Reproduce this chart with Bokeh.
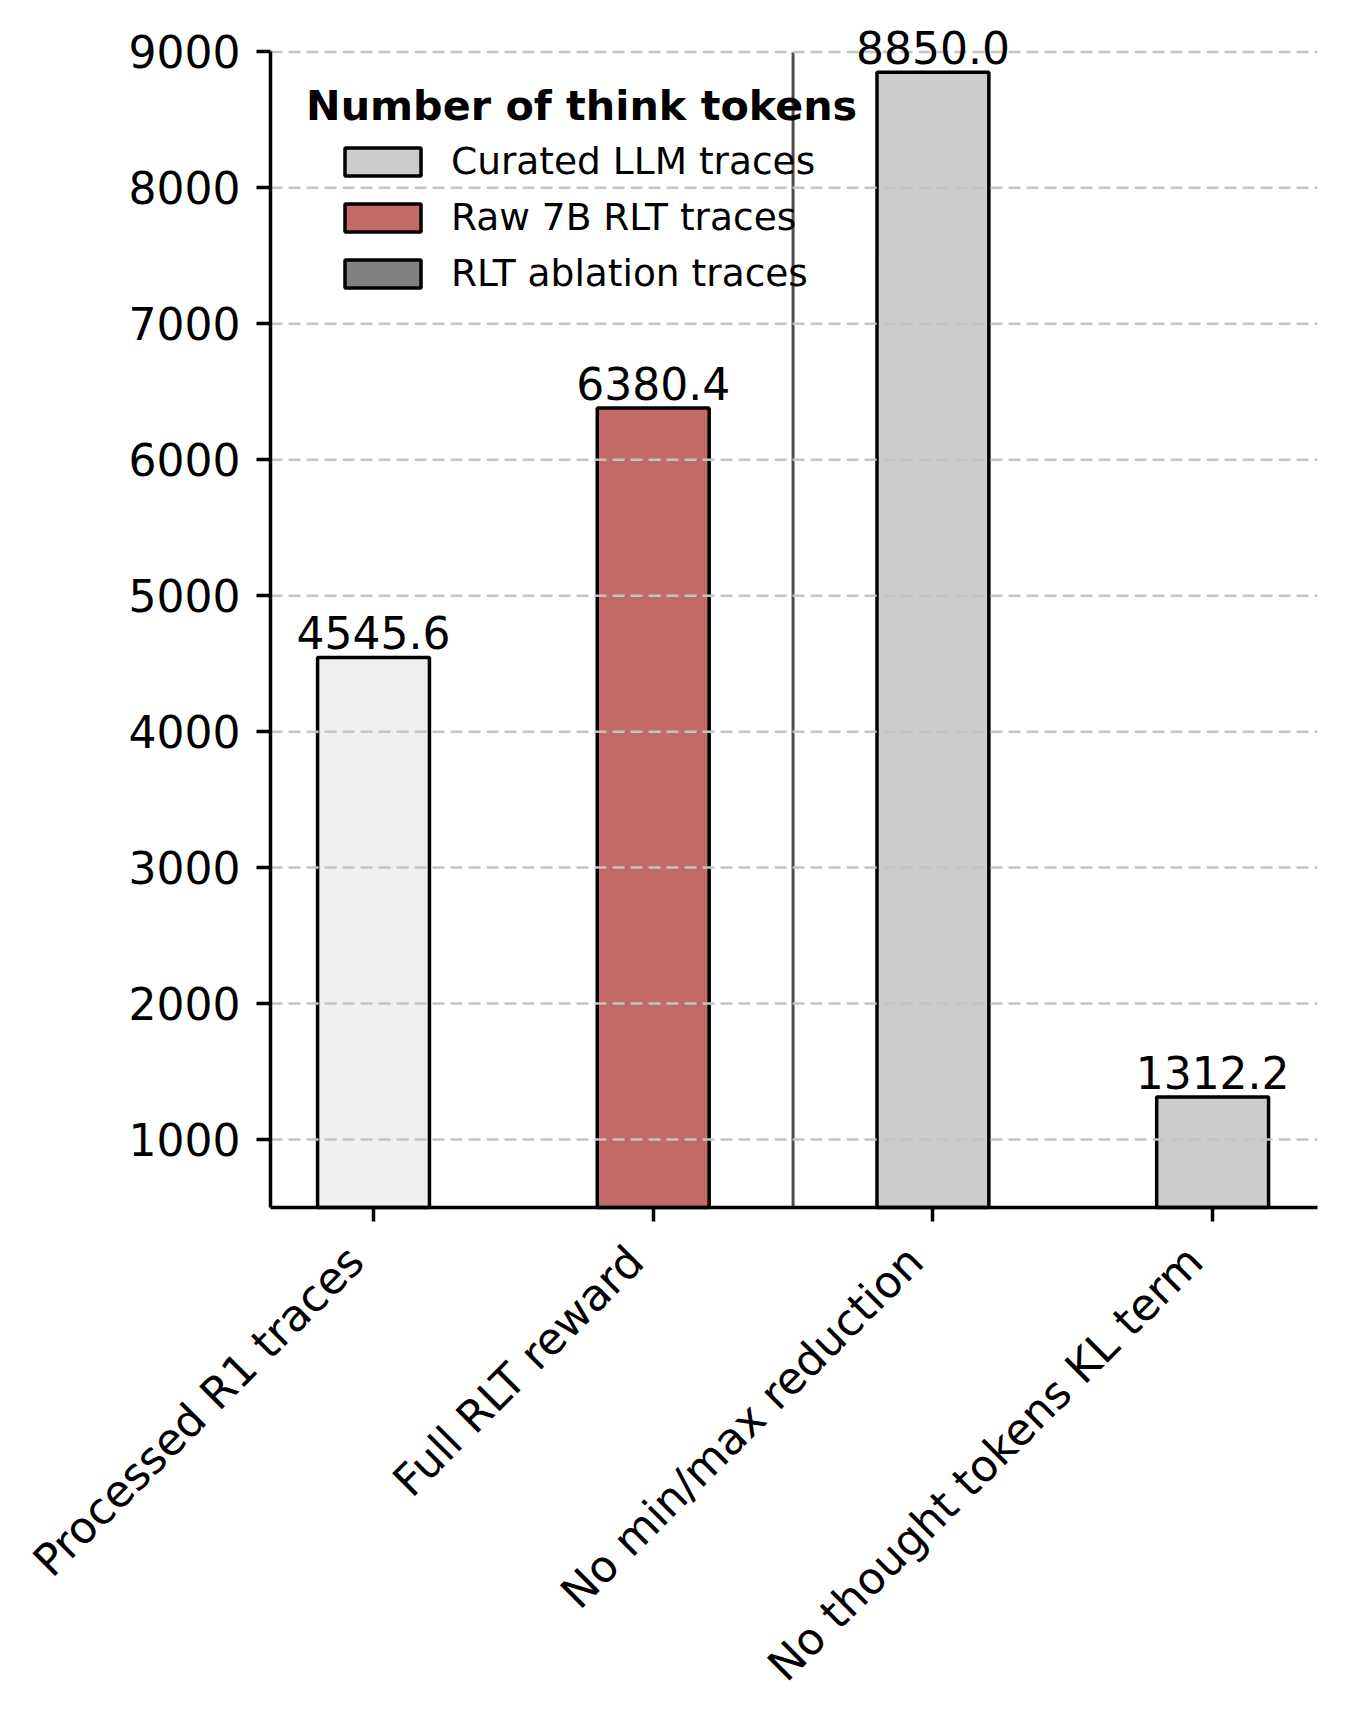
import math
from bokeh.plotting import figure
from bokeh.models import (ColumnDataSource, Range1d, FixedTicker, Legend,
                          LegendItem, Label, LabelSet)
from bokeh.core.properties import value
from bokeh.embed import file_html
from bokeh.resources import INLINE

# ---- data ----
categories = ["Processed R1 traces", "Full RLT reward",
              "No min/max reduction", "No thought tokens KL term"]
think_tokens = [4545.6, 6380.4, 8850.0, 1312.2]
bar_colors = ["#f0f0f0", "#c16a68", "#cccccc", "#cccccc"]
legend_labels = ["Curated LLM traces", "Raw 7B RLT traces", "RLT ablation traces"]
legend_colors = ["#cccccc", "#c16a68", "#808080"]
legend_title = "Number of think tokens"
y_ticks = [1000, 2000, 3000, 4000, 5000, 6000, 7000, 8000, 9000]
y_min, y_max = 500, 9000            # visible axis limits
x_min, x_max = -0.368, 3.375        # visible axis limits
separator_after = 1.5

FONT = "DejaVu Sans"
W, H = 1340, 1708

positions = list(range(len(categories)))

# the frame covers the whole canvas; axes are pinned at the axis limits
p = figure(frame_width=W, frame_height=H,
           min_border_left=0, min_border_right=0,
           min_border_top=0, min_border_bottom=0,
           x_range=Range1d(-1.3336, 3.4572), y_range=Range1d(-3185, 9378),
           output_backend="svg", toolbar_location=None,
           background_fill_color="white", border_fill_color="white")
p.outline_line_color = None

src = ColumnDataSource(dict(x=positions, top=think_tokens, color=bar_colors,
                            label=[f"{v:.1f}" for v in think_tokens]))
p.vbar(x="x", top="top", bottom=y_min, width=0.4, source=src,
       fill_color="color", line_color="black", line_width=3.5)

# separator between the full reward and the ablations
p.segment(x0=[separator_after], y0=[y_min], x1=[separator_after], y1=[y_max],
          line_color="#4d4d4d", line_width=3)

# horizontal dashed grid above the bars
n = len(y_ticks)
p.segment(x0=[x_min] * n, y0=y_ticks, x1=[x_max] * n, y1=y_ticks,
          line_color="#c4c4c4", line_width=2.5, line_dash="12 6")

p.add_layout(LabelSet(x="x", y="top", text="label", source=src,
                      y_offset=8,
                      text_font=value(FONT), text_font_size="44px",
                      text_color="black",
                      text_align="center", text_baseline="bottom"))

# axes
p.xgrid.visible = False
p.ygrid.visible = False
for ax in (p.xaxis[0], p.yaxis[0]):
    ax.axis_line_width = 3.5
    ax.axis_line_color = "black"
    ax.major_tick_line_width = 3.5
    ax.major_tick_line_color = "black"
    ax.major_tick_out = 14
    ax.major_tick_in = 0
    ax.minor_tick_line_color = None
    ax.major_label_text_font = FONT
    ax.major_label_text_font_size = "44px"
    ax.major_label_text_color = "black"

p.yaxis.fixed_location = x_min
p.yaxis.bounds = (y_min, y_max)
p.yaxis.ticker = FixedTicker(ticks=y_ticks)
p.yaxis.major_label_standoff = 16

p.xaxis.fixed_location = y_min
p.xaxis.bounds = (x_min, x_max)
p.xaxis.ticker = FixedTicker(ticks=positions)
p.xaxis.major_label_text_font_size = "0px"
p.xaxis.major_label_text_alpha = 0

# category labels, rotated 45 degrees, right end at the tick
cat_src = ColumnDataSource(dict(x=positions, y=[y_min] * len(positions),
                                label=categories))
p.add_layout(LabelSet(x="x", y="y", text="label", source=cat_src,
                      angle=math.pi / 4, x_offset=-7, y_offset=-57,
                      text_font=value(FONT), text_font_size="44px",
                      text_color="black",
                      text_align="right", text_baseline="alphabetic"))

# legend (proxy renderers: zero-height bars at the axis floor)
items = []
for lab, col in zip(legend_labels, legend_colors):
    r = p.vbar(x=[0], top=[y_min], bottom=[y_min], width=0.0, fill_color=col,
               line_color="black", line_width=3.5)
    items.append(LegendItem(label=lab, renderers=[r]))
legend = Legend(items=items, location=(335, 1413),
                glyph_width=95, glyph_height=35, label_standoff=21,
                spacing=12, padding=0, margin=0,
                label_text_font=FONT, label_text_font_size="37.5px",
                label_text_color="black",
                border_line_color=None, background_fill_alpha=0)
p.add_layout(legend)

p.add_layout(Label(x=0.744, y=8600, text=legend_title,
                   text_font=FONT, text_font_size="41.3px",
                   text_font_style="bold", text_color="black",
                   text_align="center", text_baseline="middle"))

open("out.html", "w").write(file_html(p, INLINE))
